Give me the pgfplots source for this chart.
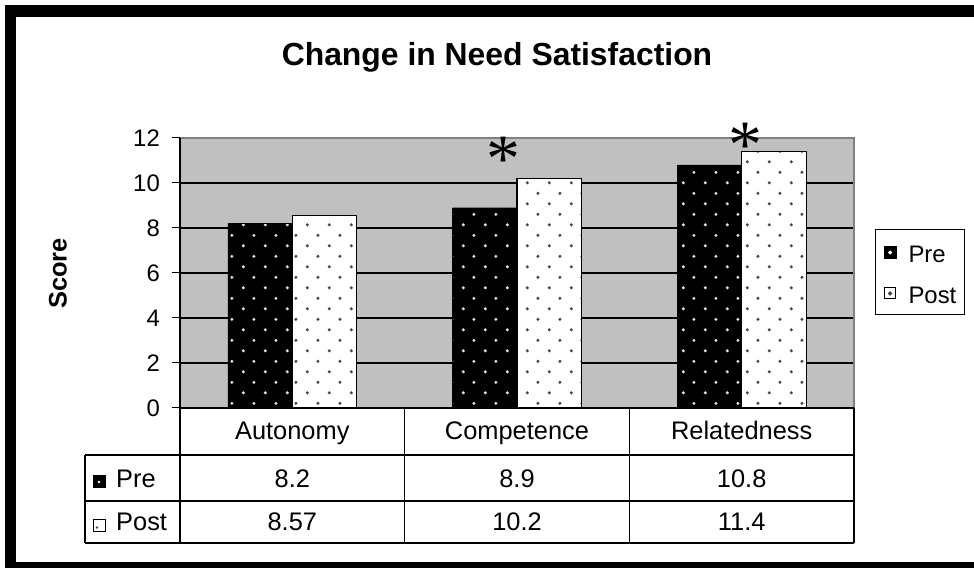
\documentclass[border=0pt]{standalone}
\usepackage{fontspec}
\setmainfont{Liberation Sans}
\newfontfamily\starfont{Liberation Serif}
\usepackage{pgfplots}
\pgfplotsset{compat=1.18}
\usetikzlibrary{patterns}

% staggered dot lattice used by both series
\pgfdeclarepatternformonly{dotlattice}{\pgfpointorigin}{\pgfpoint{21.6bp}{21.4bp}}{\pgfpoint{21.6bp}{21.4bp}}{%
  \pgfpathcircle{\pgfpoint{5.4bp}{5.35bp}}{1.7bp}%
  \pgfpathcircle{\pgfpoint{16.2bp}{16.05bp}}{1.7bp}%
  \pgfusepath{fill}}

\definecolor{plotgray}{RGB}{192,192,192}
\definecolor{bordergray}{RGB}{128,128,128}
\definecolor{dotgray}{RGB}{70,70,70}
\definecolor{dotlight}{RGB}{225,225,225}

\newcommand{\tfont}{\fontsize{24}{24}\selectfont}
\newcommand{\cfont}{\fontsize{25.5}{25.5}\selectfont}

\begin{document}
\begin{tikzpicture}[x=1bp,y=1bp]
\useasboundingbox (0,0) rectangle (974,568);
\fill[white] (0,0) rectangle (974,568);
% outer frame
\fill[black] (5,0) rectangle (16,563);
\fill[black] (5,551) rectangle (974,563);
\fill[black] (5,0) rectangle (974,6);

\begin{axis}[
  at={(180bp,160bp)}, anchor=south west,
  scale only axis, width=674bp, height=270bp,
  xmin=-0.5, xmax=2.5, ymin=0, ymax=12,
  xtick=\empty, ytick={0,2,...,12},
  ytick pos=left, tick align=outside, major tick length=8bp,
  tick style={black, line width=1bp},
  ymajorgrids, grid style={black, line width=1.2bp},
  axis line style={draw=none},
  axis background/.style={fill=plotgray},
  ybar, bar width=0.287,
  clip=false,
  ticklabel style={font=\tfont},
  yticklabel style={anchor=east, inner sep=0pt, xshift=-12bp},
  /pgf/number format/assume math mode=true,
  legend style={at={(1.0312,0.663)}, anchor=north west,
    draw=black, line width=1bp, font=\tfont,
    inner xsep=8bp, inner ysep=4bp, row sep=5bp,
    nodes={inner sep=0pt, text height=29bp, text depth=7bp},
    /tikz/every odd column/.append style={column sep=12bp}},
  legend cell align=left,
]
\addplot[bar shift=-0.1435, draw=black, fill=black,
  postaction={pattern=dotlattice, pattern color=dotlight},
  legend image code/.code={
    \fill[black] (0bp,-7bp) rectangle (12bp,5bp);
    \fill[white] (6bp,-1bp) circle (1.3bp);}]
  coordinates {(0,8.2) (1,8.9) (2,10.8)};
\addplot[bar shift=0.1435, draw=black, line width=1.3bp, fill=white,
  postaction={pattern=dotlattice, pattern color=dotgray},
  legend image code/.code={
    \draw[black, line width=1bp, fill=white] (0.5bp,-6.5bp) rectangle (11.5bp,4.5bp);
    \fill[dotgray] (6bp,-1bp) circle (1.3bp);}]
  coordinates {(0,8.57) (1,10.2) (2,11.4)};
\legend{Pre,Post}
% plot area border: grey top/right, black left/bottom
\draw[bordergray, line width=2bp] (rel axis cs:0,1) -- (rel axis cs:1,1) -- (rel axis cs:1,0);
\draw[black, line width=1.5bp] (rel axis cs:0,1) -- (rel axis cs:0,0) -- (rel axis cs:1,0);
% significance marks
\node[font={\starfont\fontsize{68}{68}\selectfont}, anchor=base, inner sep=0pt] at (axis cs:0.94,10.05) {*};
\node[font={\starfont\fontsize{68}{68}\selectfont}, anchor=base, inner sep=0pt] at (axis cs:2.015,10.7) {*};
\end{axis}

% title and y label
\node[font={\fontsize{32}{32}\selectfont\bfseries}, anchor=base] at (497,502) {Change in Need Satisfaction};
\node[font={\fontsize{25.5}{25.5}\selectfont\bfseries}, rotate=90] at (58,294.5) {Score};

% data table
\begin{scope}[line width=1.3bp]
\draw (85,113) -- (854,113);
\draw (85,67) -- (854,67);
\draw (85,25) -- (854,25);
\draw (85,25) -- (85,113);
\draw (180,25) -- (180,160);
\draw (404.7,25) -- (404.7,160);
\draw (629.3,25) -- (629.3,160);
\draw (854,25) -- (854,160);
\end{scope}
\begin{scope}[every node/.style={font=\cfont, anchor=base, inner sep=0pt}]
\node at (292.3,128) {Autonomy};
\node at (517,128) {Competence};
\node at (741.7,128) {Relatedness};
\node at (292.3,80) {8.2};
\node at (517,80) {8.9};
\node at (741.7,80) {10.8};
\node at (292.3,37) {8.57};
\node at (517,37) {10.2};
\node at (741.7,37) {11.4};
\node[anchor=base west] at (116,80) {Pre};
\node[anchor=base west] at (116,37) {Post};
\end{scope}
\fill[black] (92.5,80) rectangle (105.5,93);
\fill[white] (99,86) circle (1.3bp);
\draw[black, line width=1bp, fill=white] (93,36.5) rectangle (105,48.5);
\fill[dotgray] (97,40.5) circle (1.3bp);
\end{tikzpicture}
\end{document}
